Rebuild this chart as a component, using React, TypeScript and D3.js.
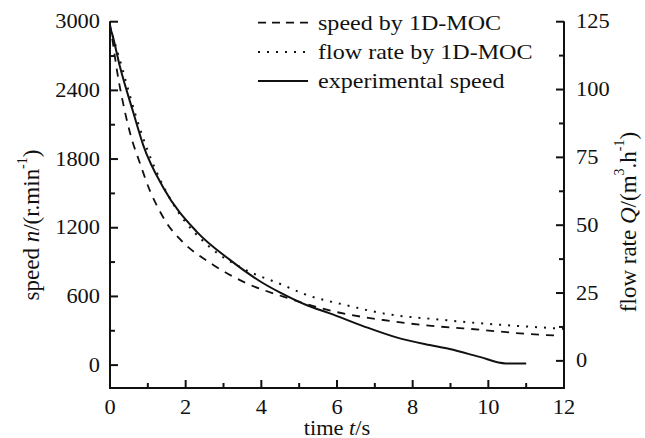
import React from "react";
import * as d3 from "d3";

// ---- data ----
const expTime = [0, 0.05, 0.26, 0.62, 0.88, 1.41, 2.29, 3.17, 4.05, 4.5, 5.19, 5.81, 6.69, 7.57, 8.45, 8.98, 9.77, 10.46, 11.0];
const expSpeed = [2950, 2900, 2610, 2202, 1920, 1550, 1166, 919, 715, 633, 525, 452, 341, 242, 175, 140, 72, 15, 15];

const mocTime = [0, 0.09, 0.18, 0.31, 0.53, 0.79, 1.06, 1.23, 1.5, 1.85, 2.73, 3.61, 4.58, 5.94, 7.22, 8.76, 9.33, 11.53, 11.8];
const mocSpeed = [2980, 2785, 2581, 2347, 2027, 1765, 1520, 1400, 1240, 1100, 875, 715, 598, 467, 394, 335, 321, 262, 258];

const flowTime = [0, 0.13, 0.31, 0.48, 0.7, 1.01, 1.37, 1.67, 2.64, 3.52, 4.58, 5.1, 6.25, 7.22, 8.89, 9.33, 11.89, 12];
const flowRate = [123, 117, 108.5, 100, 89.5, 77, 65.5, 57.8, 41.9, 34.0, 27.9, 24.8, 20.5, 17.5, 15.0, 14.4, 11.9, 11.8];

const xMajor = [0, 2, 4, 6, 8, 10, 12];
const xMinor = [1, 3, 5, 7, 9, 11];
const yLeftMajor = [0, 600, 1200, 1800, 2400, 3000];
const yLeftMinor = [300, 900, 1500, 2100, 2700];
const yRightMajor = [0, 25, 50, 75, 100, 125];
const yRightMinor = [12.5, 37.5, 62.5, 87.5, 112.5];

const legendItems = [
  { label: "speed by 1D-MOC", dash: "8,6", width: 1.8 },
  { label: "flow rate by 1D-MOC", dash: "2,7", width: 2 },
  { label: "experimental speed", dash: "none", width: 2 },
];

const W = 645;
const H = 438;
const L = 110, R = 564, B = 388, T = 21.7;
const FONT = "'Liberation Serif', 'Times New Roman', serif";
const SX = 1.12;

const x = d3.scaleLinear().domain([0, 12]).range([L, R]);
const yL = d3.scaleLinear().domain([-200, 3000]).range([B, T]);
const yR = d3.scaleLinear().domain([-10, 125]).range([B, T]);

function Txt({ x: px, y: py, anchor = "middle", size = 20, stretch = SX, rotate = 0, children }: any) {
  return (
    <g transform={`translate(${px},${py}) rotate(${rotate}) scale(${stretch},1)`}>
      <text textAnchor={anchor} dominantBaseline="central" fontFamily={FONT} fontSize={size} fill="#111">
        {children}
      </text>
    </g>
  );
}

export default function App() {
  const lineExp = d3.line<number>().x((_, i) => x(expTime[i])).y((d) => yL(d)).curve(d3.curveMonotoneX);
  const lineMoc = d3.line<number>().x((_, i) => x(mocTime[i])).y((d) => yL(d)).curve(d3.curveMonotoneX);
  const lineFlow = d3.line<number>().x((_, i) => x(flowTime[i])).y((d) => yR(d)).curve(d3.curveMonotoneX);

  const stroke = "#111";
  return (
    <svg width={W} height={H} style={{ position: "absolute", left: 0, top: 0, background: "#fff" }}>
      <rect x={0} y={0} width={W} height={H} fill="#fff" />
      {/* axes */}
      <g stroke={stroke} strokeWidth={2} fill="none">
        <path d={`M${L},${T - 0.5}V${B}H${R}V${T - 0.5}`} />
        {xMajor.map((v) => <line key={"xM" + v} x1={x(v)} x2={x(v)} y1={B} y2={B - 8} />)}
        {xMinor.map((v) => <line key={"xm" + v} x1={x(v)} x2={x(v)} y1={B} y2={B - 5} />)}
        {yLeftMajor.map((v) => <line key={"lM" + v} x1={L} x2={L + 8} y1={yL(v)} y2={yL(v)} />)}
        {yLeftMinor.map((v) => <line key={"lm" + v} x1={L} x2={L + 5} y1={yL(v)} y2={yL(v)} />)}
        {yRightMajor.map((v) => <line key={"rM" + v} x1={R} x2={R - 8} y1={yR(v)} y2={yR(v)} />)}
        {yRightMinor.map((v) => <line key={"rm" + v} x1={R} x2={R - 5} y1={yR(v)} y2={yR(v)} />)}
      </g>
      {/* curves */}
      <path d={lineFlow(flowRate) || ""} fill="none" stroke={stroke} strokeWidth={2} strokeDasharray="2,7" />
      <path d={lineMoc(mocSpeed) || ""} fill="none" stroke={stroke} strokeWidth={1.8} strokeDasharray="8,7" />
      <path d={lineExp(expSpeed) || ""} fill="none" stroke={stroke} strokeWidth={2} />
      {/* tick labels */}
      {xMajor.map((v) => <Txt key={"xt" + v} x={x(v)} y={407}>{v}</Txt>)}
      {yLeftMajor.map((v) => <Txt key={"lt" + v} x={100} y={yL(v)} anchor="end">{v}</Txt>)}
      {yRightMajor.map((v) => <Txt key={"rt" + v} x={576} y={yR(v)} anchor="start">{v}</Txt>)}
      {/* axis titles */}
      <Txt x={337} y={428}>
        time <tspan fontStyle="italic">t</tspan>/s
      </Txt>
      <Txt x={31} y={225} rotate={-90} stretch={1} size={23}>
        speed <tspan fontStyle="italic">n</tspan>/(r.min<tspan dy={-9} fontSize={14}>-1</tspan><tspan dy={9}>)</tspan>
      </Txt>
      <Txt x={628} y={222} rotate={-90} stretch={1} size={23}>
        flow rate <tspan fontStyle="italic">Q</tspan>/(m<tspan dy={-9} fontSize={14}>3</tspan><tspan dy={9}>.h</tspan><tspan dy={-9} fontSize={14}>-1</tspan><tspan dy={9}>)</tspan>
      </Txt>
      {/* legend */}
      {legendItems.map((it, i) => {
        const ly = 22.7 + i * 29.2;
        return (
          <g key={it.label}>
            <line x1={258} x2={308} y1={ly} y2={ly} stroke={stroke} strokeWidth={it.width} strokeDasharray={it.dash} />
            <Txt x={318} y={ly} anchor="start" size={21.5}>{it.label}</Txt>
          </g>
        );
      })}
    </svg>
  );
}
